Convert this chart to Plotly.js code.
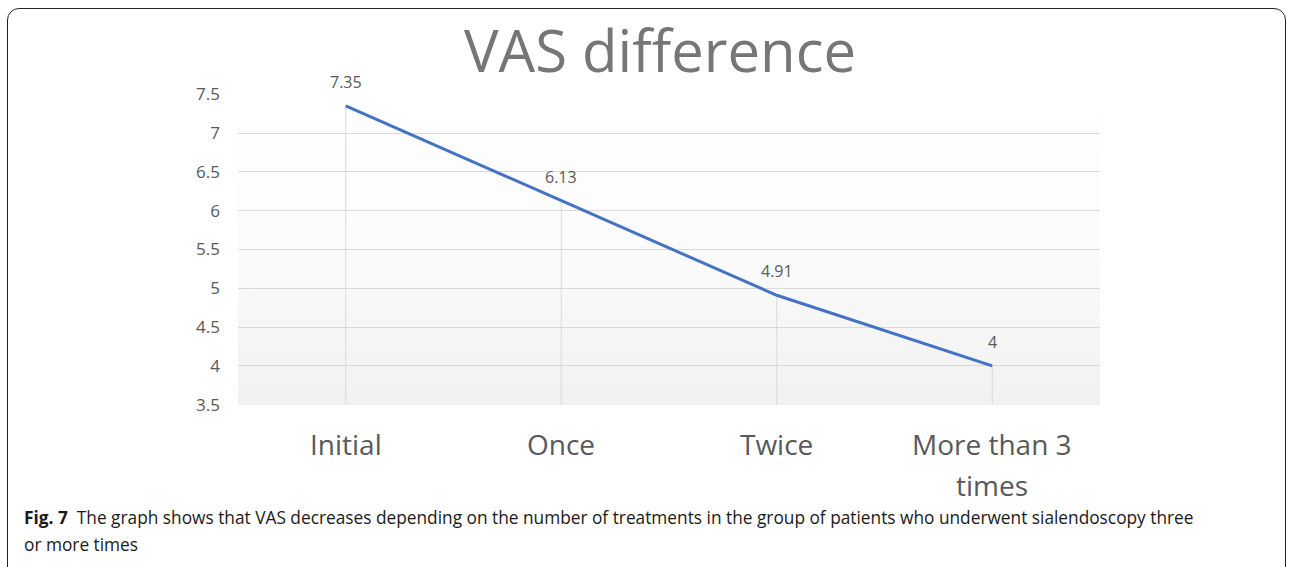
<!DOCTYPE html>
<html>
<head>
<meta charset="utf-8">
<script src="https://cdn.plot.ly/plotly-3.0.1.min.js"></script>
<style>
  html, body { margin: 0; padding: 0; background: #fff; }
  #wrap { position: relative; width: 1290px; height: 567px; overflow: hidden; }
  #frame { position: absolute; left: 7px; top: 8px; width: 1279px; height: 572px;
           border: 1.3px solid #222; border-radius: 12px; box-sizing: border-box; pointer-events: none; z-index: 2; }
  #bg { position: absolute; left: 238px; top: 94px; width: 862px; height: 311px;
        background: linear-gradient(to bottom, #ffffff 0%, #fbfbfb 50%, #f1f1f1 100%); z-index: 0; }
  #chart { position: absolute; left: 0; top: 0; width: 1290px; height: 567px; z-index: 1; }
</style>
</head>
<body>
<div id="wrap">
  <div id="bg"></div>
  <div id="chart"></div>
  <div id="frame"></div>
</div>
<script>
const categories = ["Initial", "Once", "Twice", "More than 3<br>times"];
const vasValues = [7.35, 6.13, 4.91, 4];
const valueLabels = ["7.35", "6.13", "4.91", "4"];
const yTicks = [3.5, 4, 4.5, 5, 5.5, 6, 6.5, 7, 7.5];
const yTickText = ["3.5", "4", "4.5", "5", "5.5", "6", "6.5", "7", "7.5"];
const yMin = 3.5, yMax = 7.5;
const captionLines = [
  "<b>Fig. 7</b>  The graph shows that VAS decreases depending on the number of treatments in the group of patients who underwent sialendoscopy three",
  "or more times"
];

const grey = "#595959";
const plotL = 238, plotR = 1100, plotT = 94, plotB = 405;
const plotH = plotB - plotT, plotW = plotR - plotL;

const traces = [{
  type: "scatter",
  mode: "lines",
  x: categories,
  y: vasValues,
  line: { color: "#4472C4", width: 3 },
  error_y: {
    type: "data", symmetric: false,
    array: vasValues.map(() => 0),
    arrayminus: vasValues.map(v => v - yMin),
    color: "#d9d9d9", thickness: 1, width: 0
  },
  hoverinfo: "skip"
}];

const annotations = [];

// value labels above each point
categories.forEach((c, i) => annotations.push({
  x: c, y: vasValues[i], xref: "x", yref: "y",
  text: valueLabels[i], showarrow: false,
  yshift: 24, xanchor: "center", yanchor: "middle",
  font: { family: "Open Sans, sans-serif", size: 16, color: grey }
}));

// category labels (one annotation per line for Excel-like line spacing)
categories.forEach(c => {
  c.split("<br>").forEach((line, k) => annotations.push({
    x: c, xref: "x", yref: "paper", y: 0,
    yshift: -(39 + 41 * k), xanchor: "center", yanchor: "middle",
    text: line, showarrow: false,
    font: { family: "Open Sans, sans-serif", size: 28, color: grey }
  }));
});

// caption
captionLines.forEach((line, k) => annotations.push({
  xref: "paper", yref: "paper",
  x: (22 - plotL) / plotW, y: 0,
  yshift: -(112 + 27 * k),
  xanchor: "left", yanchor: "middle", align: "left",
  text: line, showarrow: false,
  font: { family: "Open Sans, sans-serif", size: 17.3, color: "#1a1a1a" }
}));

const layout = {
  width: 1290, height: 567,
  margin: { l: plotL, r: 1290 - plotR, t: plotT, b: 567 - plotB },
  paper_bgcolor: "rgba(0,0,0,0)",
  plot_bgcolor: "rgba(0,0,0,0)",
  showlegend: false,
  title: {
    text: "VAS difference",
    font: { family: "Open Sans, sans-serif", size: 58, color: "#767676" },
    xref: "container", x: 660 / 1290, xanchor: "center",
    yref: "container", y: 1 - 52 / 567, yanchor: "middle"
  },
  xaxis: {
    type: "category",
    range: [-0.5, 3.5],
    showgrid: false, zeroline: false, showline: false,
    ticks: "", showticklabels: false
  },
  yaxis: {
    range: [yMin - 0.004, yMax + 0.004],
    tickmode: "array", tickvals: yTicks, ticktext: yTickText,
    showgrid: true, gridcolor: "#d9d9d9", gridwidth: 1,
    zeroline: false, showline: false, ticks: "",
    ticklabelstandoff: 17,
    tickfont: { family: "Open Sans, sans-serif", size: 17, color: grey }
  },
  annotations: annotations
};

Plotly.newPlot("chart", traces, layout, { displayModeBar: false, staticPlot: true });
</script>
</body>
</html>
